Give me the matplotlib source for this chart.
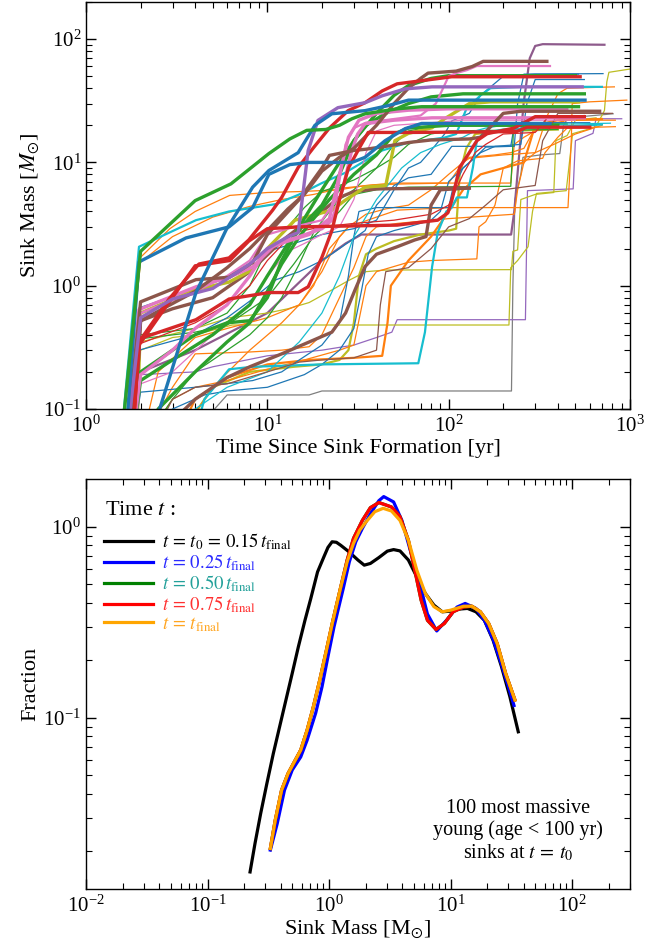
import matplotlib
matplotlib.use("Agg")
import matplotlib.pyplot as plt
from matplotlib.ticker import LogLocator, NullFormatter

plt.rcParams['font.family'] = ['Liberation Serif', 'DejaVu Serif']
plt.rcParams['mathtext.fontset'] = 'stix'

C0, C1, C2, C3, C4, C5, C6, C7, C8, C9 = ('#1f77b4', '#ff7f0e', '#2ca02c', '#d62728', '#9467bd',
                                          '#8c564b', '#e377c2', '#7f7f7f', '#bcbd22', '#17becf')
MAUVE = '#8e5b8c'
THICK, MED, THIN = 2.4, 1.6, 0.9

# ---------------- top panel: sink mass tracks (time [yr], mass [Msun]) ----------------
green_a = [(1.5, 0.03), (2.0, 1.9), (4.0, 4.9), (6.3, 6.7), (10.2, 11.8), (13.3, 15.5), (16.5, 18.2),
           (21, 18.5), (25, 20), (29.3, 22.6), (34.6, 24.8), (52, 27.2), (71, 28.3), (520, 28.3)]
blue_b = [(2.2, 0.05), (4.04, 0.88), (5.92, 2.83), (8.3, 6.3), (10.2, 8.6), (14.8, 12), (18.3, 20),
          (22.7, 24.8), (34.6, 26.3), (46, 28.8), (60, 32), (565, 32)]
blue_c = [(1.6, 0.03), (1.96, 1.56), (3.56, 2.44), (6.15, 3.0), (8.3, 4.3), (10.2, 8.0), (13.3, 9.6),
          (17, 10), (29.3, 10), (34.6, 11), (44.6, 15), (57.6, 18.8), (71, 20.7), (362, 20.7)]
purple_d = [(1.6, 0.03), (2.0, 0.55), (3.0, 0.78), (5, 0.95), (8, 1.5), (10, 2.0), (13, 2.5), (14.8, 2.7),
            (16.8, 12.5), (19, 21.9), (24.5, 27.8), (34.6, 30.5), (43, 34.7), (57.6, 39.5), (81, 41), (545, 41)]
red_e = [(1.75, 0.03), (1.96, 0.35), (2.87, 0.78), (4.2, 1.5), (6.15, 1.68), (7.9, 2.35), (10.7, 4.1),
         (12, 5.2), (14.8, 9.1), (18, 13.2), (22, 19), (27.9, 26.3), (34.6, 30.5), (43, 38), (52, 43.4),
         (71, 46), (104, 49.5), (531, 49.5)]
red_f = [(1.75, 0.03), (1.96, 0.37), (4.04, 0.53), (6.15, 0.78), (10.2, 0.88), (14.8, 0.88), (16.8, 0.98),
         (20, 1.7), (22.7, 2.8), (25, 5), (28, 9), (33, 14), (36, 17.5), (60, 17.5), (110, 17.6), (237, 17.8),
         (270, 19.3), (600, 19.3)]
red_g = [(1.75, 0.03), (1.96, 0.33), (2.9, 0.75), (4.0, 1.45), (6.2, 1.6), (7.9, 2.3), (10, 2.9), (15, 3.0),
         (52, 3.1), (87, 3.4), (99, 3.9), (104, 4.9), (115, 9.1), (130, 12), (143, 15), (163, 17.1), (230, 19),
         (300, 23.5), (560, 23.5)]
pink_h = [(1.6, 0.03), (1.96, 0.64), (4.04, 0.98), (6.15, 1.17), (8.3, 1.42), (11.2, 2.2), (15, 2.5), (20, 2.9),
          (22.7, 3.4), (26, 6), (29, 12), (31.5, 17), (34.6, 20.6), (50, 22), (81, 23), (560, 23)]
pink_h2 = [(1.7, 0.03), (2.0, 0.19), (3, 0.3), (4, 0.45), (6, 0.7), (8, 1.2), (10, 2.0), (13, 2.3), (17, 2.6),
           (22, 3.5), (25, 8), (28, 16), (32, 22), (40, 25), (60, 26.5), (100, 27.2), (448, 27.2)]
pink_top = [(1.6, 0.03), (2.0, 0.6), (4, 0.9), (6, 1.2), (8, 1.6), (10, 2.6), (14, 3.0), (20, 3.4), (24, 5),
            (27, 14), (30, 19), (35, 21), (50, 22.5), (70, 24), (85, 30), (100, 50), (110, 53), (126, 56),
            (143, 60.5), (362, 60.5)]
olive_i = [(1.6, 0.03), (2.0, 0.6), (4.04, 0.93), (6.15, 1.07), (8.3, 1.35), (10, 2.0), (14.2, 3.4), (22.7, 4.1),
           (26.7, 4.9), (34.6, 6.3), (45, 6.5), (50.5, 15), (60, 17.2), (81, 19.1), (95, 22.6), (130, 30),
           (170, 31), (520, 31)]
brown_j1 = [(1.6, 0.03), (2.0, 0.74), (4.04, 1.12), (6.15, 1.17), (8.3, 1.54), (10, 2.6), (12, 3.5), (15, 5),
            (20, 9), (22, 11.4), (30, 12.5), (35, 12.8), (45, 13.5), (60, 14.5), (80, 15.2), (130, 15.5),
            (150, 16), (200, 25), (250, 26), (680, 26)]
brown_j2 = [(1.7, 0.03), (2.0, 0.52), (4, 0.9), (6, 1.4), (8, 2.0), (10, 2.8), (13, 4.2), (16, 5.5), (20, 8.5),
            (25, 11), (30, 13), (40, 20), (50, 30), (60, 40), (70, 48), (77, 53), (110, 55), (135, 60),
            (155, 66), (348, 66)]
brown_j3 = [(2.5, 0.05), (3, 0.08), (4, 0.12), (6, 0.18), (8, 0.22), (12, 0.28), (14.8, 0.32), (22.7, 0.42),
            (27, 0.6), (30.5, 0.93), (34.6, 1.43), (40, 1.8), (52, 2.07), (65, 2.35), (75, 2.5), (80, 4.5),
            (90, 6.0), (130, 6.2)]
brown_j4 = [(1.8, 0.03), (2, 0.52), (3, 0.65), (5, 0.8), (8, 1.3), (12, 2.3), (16, 3.2), (20, 4.0), (25, 5.2),
            (30, 5.8), (40, 6.1), (130, 6.2)]
green_k1 = [(1.7, 0.03), (2.0, 0.2), (3, 0.3), (4, 0.4), (6, 0.5), (8, 0.52), (10, 0.8), (12, 1.6), (15, 3),
            (20, 6), (25, 10), (30, 15), (40, 25), (50, 35), (60, 42), (80, 48), (100, 50.5), (500, 50.5)]
green_k2 = [(1.7, 0.03), (2.0, 0.17), (3, 0.25), (5, 0.4), (8, 0.7), (10, 1.2), (13, 2.2), (17, 3.5), (20, 4.5),
            (25, 8), (30, 15), (35, 20), (45, 25), (60, 30), (80, 34), (120, 36), (560, 36)]
green_k3 = [(1.9, 0.03), (2.5, 0.1), (4, 0.2), (6, 0.35), (8, 0.5), (10, 0.9), (12, 1.5), (15, 2.5), (18, 3.5),
            (22, 5), (30, 8), (40, 11.5), (50, 17), (60, 19), (100, 20), (400, 20)]
orange_q1 = [(1.5, 0.03), (2.0, 1.7), (2.9, 2.9), (4.0, 4.0), (6.2, 5.4), (10, 5.7), (15, 5.8), (25, 6.0),
             (35, 6.5), (50, 6.8), (220, 6.8), (230, 14), (260, 16), (300, 18), (360, 19), (430, 21.5)]
orange_q2 = [(3, 0.05), (5, 0.15), (8, 0.3), (12, 0.5), (15, 0.7), (18, 1.0), (22, 2.0), (28, 3.0), (40, 3.6),
             (52, 4.1), (100, 4.3), (455, 4.3), (465, 8), (475, 16), (480, 30), (600, 31), (960, 32)]
orange_q3 = [(2, 0.05), (3, 0.12), (4, 0.15), (6, 0.17), (10, 0.21), (16, 0.25), (25, 0.3), (30, 0.33), (35, 1.0),
             (40, 1.3), (60, 1.55), (80, 1.6), (143, 1.65), (147, 3.0), (160, 3.3), (180, 4.5), (200, 9),
             (240, 10.3), (330, 10.8), (340, 12), (400, 16), (450, 19), (830, 19.5)]
orange_q4 = [(1.5, 0.03), (2.0, 1.55), (3, 2.5), (5, 3.6), (8, 4.4), (12, 5.0), (18, 5.5), (26, 6.2), (40, 6.6),
             (60, 6.7), (100, 6.8), (120, 10), (130, 10.8), (200, 11.5), (300, 12), (350, 24), (400, 36),
             (450, 40), (820, 41)]
orange_q5 = [(2, 0.05), (3, 0.15), (4, 0.28), (8, 0.29), (12, 0.3), (17, 0.32), (20, 0.4), (25, 0.8), (30, 1.4),
             (35, 2.5), (40, 3.0), (52, 3.2), (65, 3.3), (100, 3.5), (230, 3.8), (240, 6), (260, 10), (300, 12),
             (380, 14), (500, 17), (700, 20)]
orange_q6 = [(3, 0.05), (4, 0.12), (6, 0.18), (10, 0.23), (17, 0.25), (30, 0.26), (43, 0.27), (46, 0.5),
             (48, 1.0), (60, 1.6), (80, 2.5), (100, 4), (120, 6), (150, 8), (200, 9), (260, 10), (300, 20),
             (400, 22), (700, 22.5)]
orange_q7 = [(2, 0.05), (2.5, 0.2), (4, 0.38), (6, 0.45), (10, 0.55), (15, 0.7), (20, 1.3), (25, 2.5), (28, 3.0),
             (35, 3.8), (45, 4.2), (60, 4.5), (80, 6), (100, 8), (130, 11), (180, 11.5), (220, 12), (260, 13),
             (300, 19), (450, 22), (830, 22)]
blue_t1 = [(1.7, 0.03), (1.96, 0.3), (4, 0.4), (6, 0.55), (8, 0.75), (11.2, 1.12), (15, 1.3), (20, 1.6),
           (25, 2.0), (34.6, 2.8), (40, 4.5), (50, 6.5), (60, 7.5), (80, 8), (104, 13.5), (230, 13.5),
           (240, 30), (260, 52), (710, 52.5)]
blue_t2 = [(1.7, 0.03), (2.0, 0.137), (4, 0.15), (8.3, 0.17), (12, 0.2), (15, 0.25), (20, 0.33), (25, 0.5),
           (28, 1.2), (30, 2.5), (32, 4.0), (40, 4.3), (100, 4.3), (105, 6), (120, 9), (140, 11), (160, 13.3),
           (220, 13.5), (230, 20), (300, 21), (600, 21)]
blue_t3 = [(1.6, 0.03), (1.96, 0.66), (4, 0.95), (6, 1.15), (8, 1.5), (10, 1.9), (14, 2.2), (20, 2.6), (30, 2.9),
           (40, 3.4), (50, 6.0), (60, 9), (70, 10), (80, 12.5), (95, 17), (104, 21.7), (130, 25), (150, 35),
           (200, 50), (300, 52), (520, 52)]
blue_t4 = [(2, 0.05), (3, 0.1), (4.5, 0.13), (6, 0.14), (10, 0.15), (16, 0.19), (20, 0.23), (25, 0.3), (30, 0.45),
           (33, 0.9), (36, 1.8), (40, 2.5), (50, 2.8), (60, 3.0), (80, 3.4), (90, 4.0), (100, 7), (120, 9),
           (150, 12), (180, 13.5), (250, 14), (270, 30), (300, 47), (560, 47)]
green_t1 = [(1.6, 0.03), (1.96, 0.37), (4, 0.42), (6, 0.48), (10, 0.8), (14, 1.5), (18, 2.5), (25, 4), (30, 5.5),
            (40, 6.0), (60, 6.3), (220, 6.4), (225, 12), (228, 20), (300, 20.5), (450, 20.5)]
green_t2 = [(1.7, 0.03), (2.0, 0.4), (4, 0.45), (6, 0.6), (8, 1.0), (10, 2.0), (13, 3.0), (16, 4.3), (20, 5.8),
            (25, 6.5), (30, 7.2), (40, 9), (50, 11), (60, 14), (80, 17), (100, 18), (400, 18.5)]
green_t3 = [(2, 0.05), (3, 0.12), (4, 0.2), (6, 0.3), (8, 0.4), (10, 0.55), (12, 0.8), (15, 1.5), (18, 2.7),
            (22, 4), (25, 5), (30, 6), (40, 9), (50, 14), (60, 18), (90, 20), (120, 20.5), (450, 20.5)]
cyan_k = [(3.8, 0.05), (4.5, 0.12), (6.15, 0.21), (8.3, 0.22), (20, 0.23), (68, 0.235), (74, 0.42), (81, 1.42),
          (87, 2.7), (97, 4.0), (104, 4.3), (111, 5.2), (126, 5.2), (136, 9.1), (143, 15), (155, 17.2),
          (200, 18.5), (700, 20.3)]
cyan_l = [(1.5, 0.03), (1.96, 2.07), (4.04, 3.4), (6.15, 4.0), (11.2, 4.6), (15, 5.5), (20, 6.8), (26.7, 8.2),
          (43, 12.5), (60, 14.5), (95, 15.9), (110, 17), (125, 27), (150, 35), (170, 40), (250, 41), (700, 41)]
cyan_t = [(3, 0.05), (4, 0.1), (6, 0.15), (10, 0.2), (15, 0.35), (20, 0.6), (25, 1.2), (30, 2.5), (40, 5),
          (55, 9), (70, 12), (90, 14), (120, 16), (140, 18), (160, 19), (200, 20), (780, 20.8)]
purple_o = [(1.8, 0.03), (2.0, 0.19), (4.0, 0.2), (5, 0.22), (10, 0.27), (20, 0.3), (30, 0.33), (40, 0.38),
            (48.6, 0.42), (52, 0.53), (265, 0.53), (272, 5.9), (486, 6.1), (500, 15), (625, 17.2), (650, 22.6),
            (900, 22.6)]
mauve_m = [(1.8, 0.03), (2.0, 0.2), (4, 0.3), (10, 0.6), (20, 1.6), (27, 2.2), (33, 2.6), (221, 2.6), (230, 4),
           (259, 30), (280, 70), (300, 88), (330, 91), (723, 90)]
gray_n = [(4.8, 0.09), (6.0, 0.13), (17, 0.13), (20, 0.14), (222, 0.14), (226, 1.0), (232, 5), (250, 8),
          (257, 11), (320, 11.5), (410, 11.8), (430, 20), (455, 23), (807, 24.8)]
olive_p1 = [(1.9, 0.03), (2.0, 0.3), (3, 0.38), (4, 0.4), (6.4, 0.48), (215, 0.48), (220, 1.4), (240, 1.6),
            (274, 2.07), (290, 4), (305, 5.6), (445, 5.9), (470, 12), (482, 17.1), (645, 19.3), (700, 24),
            (723, 26.4), (745, 45), (765, 53.8), (1000, 57.2)]
olive_p2 = [(1.8, 0.03), (2.0, 0.35), (4, 0.45), (6.2, 0.55), (10, 0.6), (13, 0.65), (17, 0.73), (22, 0.9),
            (28, 1.1), (35, 1.3), (45, 1.34), (222, 1.35), (226, 1.9), (240, 1.95), (250, 5), (300, 5.5),
            (380, 5.7), (390, 15), (450, 16.5), (500, 22), (650, 23)]
olive_p3 = [(3, 0.05), (5, 0.15), (8, 0.2), (14, 0.22), (20, 0.23), (25, 0.25), (28, 0.3), (30, 0.5), (32, 1.2),
            (35, 1.8), (40, 2.0), (50, 2.3), (70, 2.6), (100, 2.8), (110, 2.9), (115, 8), (125, 13), (140, 17),
            (200, 18), (400, 18.5)]
brown_t = [(2.2, 0.05), (3, 0.12), (4, 0.15), (6, 0.16), (10, 0.2), (15, 0.24), (20, 0.25), (30, 0.26),
           (40, 0.3), (42, 0.7), (45, 1.3), (60, 1.4), (80, 2.0), (100, 3.0), (130, 3.5), (160, 4.5), (200, 6),
           (300, 6.5), (330, 15), (400, 25), (800, 25)]
pink_t = [(1.8, 0.03), (2, 0.16), (3, 0.2), (5, 0.4), (8, 0.7), (10, 1.2), (13, 1.9), (16, 2.2), (20, 2.6),
          (25, 3), (30, 5), (35, 12), (40, 18), (50, 20), (80, 21), (120, 22), (500, 22)]
red_t = [(1.8, 0.03), (2, 0.34), (4, 0.5), (6, 0.7), (8, 1.0), (10, 1.6), (14, 2.7), (20, 3.0), (30, 3.2),
         (50, 3.4), (80, 3.8), (100, 4.5), (120, 8), (140, 12), (160, 14), (200, 17), (300, 17.5), (350, 23),
         (560, 24)]

tracks = [
    (gray_n, C7, THIN), (mauve_m, MAUVE, MED), (purple_o, C4, THIN),
    (olive_p1, C8, THIN), (olive_p2, C8, THIN), (olive_p3, C8, MED),
    (orange_q1, C1, THIN), (orange_q2, C1, THIN), (orange_q3, C1, THIN), (orange_q4, C1, THIN),
    (orange_q5, C1, THIN), (orange_q6, C1, MED), (orange_q7, C1, THIN),
    (blue_t1, C0, THIN), (blue_t2, C0, THIN), (blue_t3, C0, THIN), (blue_t4, C0, THIN),
    (green_t1, C2, THIN), (green_t2, C2, THIN), (green_t3, C2, THIN),
    (cyan_t, C9, THIN), (cyan_k, C9, MED), (cyan_l, C9, MED),
    (brown_t, C5, THIN), (pink_t, C6, THIN), (red_t, C3, THIN),
    (brown_j3, C5, THICK), (brown_j4, C5, THICK), (olive_i, C8, THICK),
    (green_k3, C2, THICK), (green_k2, C2, THICK), (green_k1, C2, THICK),
    (pink_top, C6, MED), (pink_h2, C6, THICK), (pink_h, C6, THICK),
    (brown_j1, C5, THICK), (brown_j2, C5, THICK),
    (red_g, C3, THICK), (red_f, C3, THICK), (red_e, C3, THICK),
    (purple_d, C4, THICK), (blue_c, C0, THICK), (blue_b, C0, THICK), (green_a, C2, THICK),
]

# ---------------- bottom panel: mass distributions ----------------
mass_t0 = [0.224, 0.246, 0.274, 0.308, 0.348, 0.392, 0.442, 0.498, 0.559, 0.634, 0.707, 0.805, 0.908, 0.98,
           1.06, 1.15, 1.25, 1.46, 1.73, 1.95, 2.19, 2.57, 3.02, 3.40, 3.84, 4.5, 5.28, 6.2, 7.3, 8.55, 10.0,
           11.8, 13.8, 16.2, 19.0, 22.4, 26.3, 30.8, 36.1]
frac_t0 = [0.0156, 0.022, 0.0316, 0.0453, 0.065, 0.0897, 0.124, 0.171, 0.235, 0.324, 0.42, 0.581, 0.697, 0.78,
           0.835, 0.83, 0.80, 0.74, 0.67, 0.63, 0.643, 0.69, 0.746, 0.76, 0.748, 0.67, 0.547, 0.448, 0.389,
           0.359, 0.362, 0.371, 0.374, 0.359, 0.324, 0.255, 0.185, 0.129, 0.0845]
mass_b = [0.329, 0.375, 0.43, 0.498, 0.585, 0.66, 0.777, 0.875, 0.98, 1.10, 1.31, 1.47, 1.66, 1.88, 2.19,
          2.57, 2.82, 3.40, 3.98, 4.66, 5.50, 6.45, 7.7, 9.3, 11.3, 13.2, 16.2, 19.0, 22.4, 26.3, 30.0, 33.3]
frac_b = [0.0203, 0.028, 0.0418, 0.0533, 0.0624, 0.0763, 0.106, 0.145, 0.209, 0.30, 0.476, 0.656, 0.835, 0.98,
          1.17, 1.37, 1.44, 1.35, 1.08, 0.755, 0.525, 0.35, 0.285, 0.325, 0.38, 0.397, 0.374, 0.324, 0.258,
          0.19, 0.145, 0.116]
mass_g = [0.329, 0.361, 0.407, 0.46, 0.519, 0.585, 0.66, 0.743, 0.838, 0.946, 1.07, 1.25, 1.41, 1.59, 1.88,
          2.19, 2.57, 2.85, 3.27, 3.84, 4.5, 5.08, 5.73, 6.46, 7.6, 8.9, 10.5, 12.8, 15.0, 17.6, 20.6, 24.2,
          28.4, 33.9]
frac_g = [0.0207, 0.0291, 0.0418, 0.0511, 0.0589, 0.0678, 0.0861, 0.114, 0.157, 0.222, 0.318, 0.485, 0.67,
          0.87, 1.08, 1.26, 1.34, 1.31, 1.27, 1.13, 0.851, 0.593, 0.413, 0.324, 0.29, 0.312, 0.359, 0.38, 0.384,
          0.359, 0.312, 0.245, 0.171, 0.124]
mass_r = [0.329, 0.361, 0.407, 0.46, 0.519, 0.585, 0.66, 0.743, 0.838, 0.946, 1.07, 1.25, 1.41, 1.59, 1.88,
          2.19, 2.57, 2.85, 3.27, 3.84, 4.5, 5.08, 5.73, 6.46, 7.6, 8.9, 10.5, 12.8, 15.0, 17.6, 20.6, 24.2,
          28.4, 33.9]
frac_r = [0.0207, 0.0291, 0.0418, 0.0511, 0.0589, 0.0678, 0.0861, 0.114, 0.157, 0.222, 0.318, 0.485, 0.67,
          0.87, 1.08, 1.26, 1.34, 1.31, 1.27, 1.13, 0.851, 0.593, 0.413, 0.324, 0.29, 0.312, 0.359, 0.38, 0.384,
          0.359, 0.312, 0.245, 0.171, 0.124]
mass_f = [0.329, 0.361, 0.407, 0.46, 0.519, 0.585, 0.66, 0.743, 0.838, 0.946, 1.07, 1.25, 1.41, 1.59, 1.79,
          2.02, 2.38, 2.79, 3.27, 3.84, 4.5, 5.28, 6.2, 7.3, 8.55, 10.0, 12.8, 15.0, 17.6, 20.6, 24.2, 28.4, 33.9]
frac_f = [0.0207, 0.0291, 0.0418, 0.0511, 0.0589, 0.0678, 0.0861, 0.114, 0.157, 0.222, 0.318, 0.485, 0.656,
          0.818, 0.96, 1.062, 1.20, 1.25, 1.21, 1.08, 0.851, 0.593, 0.448, 0.382, 0.359, 0.366, 0.384, 0.384,
          0.359, 0.312, 0.245, 0.171, 0.124]

dist_labels = [r'$t\, =\, t_0\, =\, 0.15\,t_{\rm final}$', r'$t\, =\, 0.25\,t_{\rm final}$',
               r'$t\, =\, 0.50\,t_{\rm final}$', r'$t\, =\, 0.75\,t_{\rm final}$', r'$t\, =\, t_{\rm final}$']
dist_line_colors = ['black', 'blue', 'green', 'red', 'orange']
dist_text_colors = ['black', '#2b2bff', '#22a09a', '#ff3030', '#ffa520']

fig = plt.figure(figsize=(6.67, 9.41), dpi=100)
ax1 = fig.add_axes([86 / 667, 1 - 409 / 941, 544 / 667, 407 / 941])
ax2 = fig.add_axes([86 / 667, 1 - 889 / 941, 544 / 667, 410 / 941])

for pts, col, lw in tracks:
    ts = [p[0] for p in pts]
    ms = [p[1] for p in pts]
    ax1.plot(ts, ms, color=col, lw=lw, solid_joinstyle='round')

ax1.set_xscale('log')
ax1.set_yscale('log')
ax1.set_xlim(1, 1000)
ax1.set_ylim(0.1, 200)
ax1.set_xlabel('Time Since Sink Formation [yr]', fontsize=16, labelpad=1)
ax1.set_ylabel(r'Sink Mass [$M_{\odot}$]', fontsize=16, labelpad=2)

ax2.plot(mass_t0, frac_t0, color='black', lw=2.3)
ax2.plot(mass_b, frac_b, color='blue', lw=2.3)
ax2.plot(mass_g, frac_g, color='green', lw=2.3)
ax2.plot(mass_r, frac_r, color='red', lw=2.3)
ax2.plot(mass_f, frac_f, color='orange', lw=2.3)
ax2.set_xscale('log')
ax2.set_yscale('log')
ax2.set_xlim(0.01, 300)
ax2.set_ylim(0.0127, 1.78)
ax2.set_xlabel(r'Sink Mass [M$_{\odot}$]', fontsize=16, labelpad=1)
ax2.set_ylabel('Fraction', fontsize=16, labelpad=2)

ax2.text(0.035, 0.924, r'Time $t$ :', transform=ax2.transAxes, ha='left', va='center', fontsize=16)
handles = [plt.Line2D([], [], color=c, lw=2.3) for c in dist_line_colors]
leg = ax2.legend(handles, dist_labels, loc='upper left', bbox_to_anchor=(0.033, 0.872), frameon=False,
                 fontsize=13.5, handlelength=2.6, labelspacing=0.01, handletextpad=0.5,
                 borderaxespad=0.0, borderpad=0.0)
for txt, c in zip(leg.get_texts(), dist_text_colors):
    txt.set_color(c)

ax2.text(0.794, 0.141, '100 most massive\nyoung (age < 100 yr)\nsinks at $t\\, =\\, t_0$', transform=ax2.transAxes,
         ha='center', va='center', multialignment='center', fontsize=14.5, linespacing=1.15)

for ax in (ax1, ax2):
    ax.tick_params(which='both', direction='in', top=True, right=True, labelsize=15)
    ax.tick_params(which='major', length=7, width=1)
    ax.tick_params(which='minor', length=4, width=0.8)
    ax.tick_params(axis='x', which='major', pad=5)
    ax.xaxis.set_minor_locator(LogLocator(base=10, subs=range(2, 10), numticks=20))
    ax.yaxis.set_minor_locator(LogLocator(base=10, subs=range(2, 10), numticks=20))
    ax.xaxis.set_minor_formatter(NullFormatter())
    ax.yaxis.set_minor_formatter(NullFormatter())
    for s in ax.spines.values():
        s.set_linewidth(1.0)

fig.savefig('out.png', dpi=100)
